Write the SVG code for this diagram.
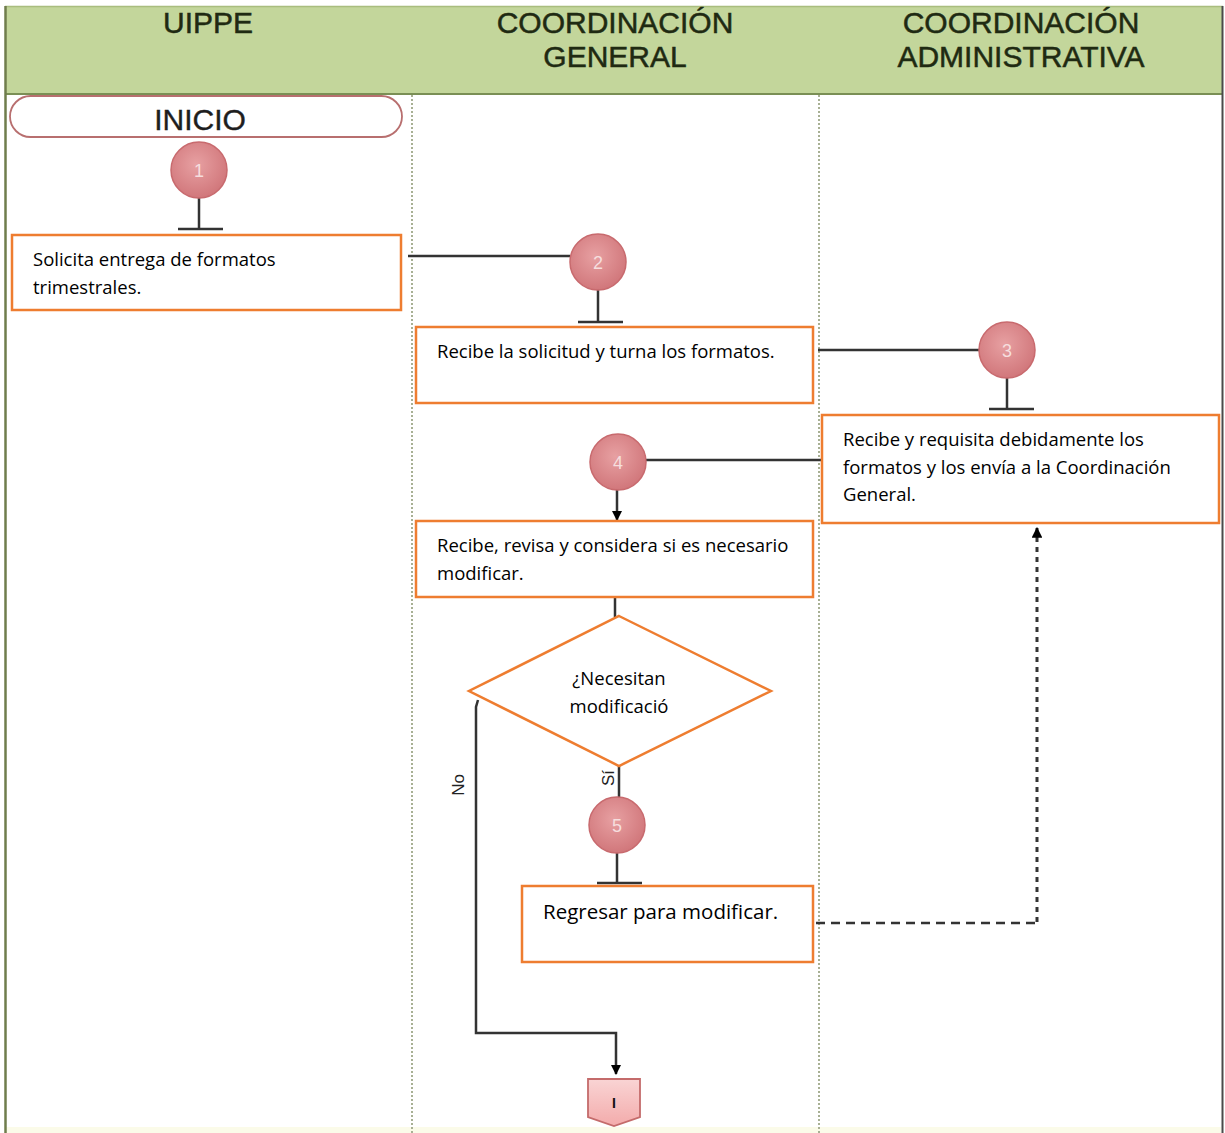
<svg xmlns="http://www.w3.org/2000/svg" width="1225" height="1133" viewBox="0 0 1225 1133">
  <style>
    .hdr { font-family: "Liberation Sans", Arial, sans-serif; font-size: 30px; fill: #1f2a12; stroke: #1f2a12; stroke-width: 0.5; text-anchor: middle; }
    .box { fill: #ffffff; stroke: #ee7d30; stroke-width: 2.5; }
    .txt { font-family: "Open Sans", "Liberation Sans", sans-serif; font-size: 18.5px; fill: #000000; }
    .big { font-size: 20.5px; }
    .num { font-family: "Liberation Sans", Arial, sans-serif; font-size: 18px; fill: #f6dede; text-anchor: middle; }
    .lbl { font-family: "Liberation Sans", Arial, sans-serif; font-size: 17px; fill: #222222; text-anchor: middle; }
    .line { fill: none; stroke: #333333; stroke-width: 2.5; }
    .lane { stroke: #a8b094; stroke-width: 2; stroke-dasharray: 2 2; }
  </style>
  <defs>
    <radialGradient id="ball" cx="45%" cy="40%" r="60%">
      <stop offset="0" stop-color="#e7a0a2"/>
      <stop offset="1" stop-color="#d1777b"/>
    </radialGradient>
    <linearGradient id="offpage" x1="0" y1="0" x2="0" y2="1">
      <stop offset="0" stop-color="#f9d4d4"/>
      <stop offset="1" stop-color="#f3abab"/>
    </linearGradient>
    <marker id="arrow" viewBox="0 0 10 10" refX="9" refY="5" markerWidth="4.2" markerHeight="4.2" orient="auto" markerUnits="strokeWidth">
      <path d="M0,0 L10,5 L0,10 z" fill="#000000"/>
    </marker>
    <marker id="arrowDash" viewBox="0 0 10 10" refX="9" refY="5" markerWidth="3.6" markerHeight="3.6" orient="auto" markerUnits="strokeWidth">
      <path d="M0,0 L10,5 L0,10 z" fill="#000000"/>
    </marker>
  </defs>

  <!-- page -->
  <rect x="0" y="0" width="1225" height="1133" fill="#ffffff"/>
  <rect x="5" y="1127" width="1216" height="6" fill="#fbfbe9"/>

  <!-- header band with lane titles -->
  <g id="header">
    <rect x="5" y="6" width="1218" height="88" fill="#c3d69b"/>
    <line x1="5" y1="6.5" x2="1223" y2="6.5" stroke="#a9bd7e" stroke-width="1.5"/>
    <line x1="5" y1="94" x2="1223" y2="94" stroke="#7a8f55" stroke-width="2"/>
    <text class="hdr" x="208" y="33">UIPPE</text>
    <text class="hdr" x="615" y="33">COORDINACIÓN</text>
    <text class="hdr" x="615" y="67">GENERAL</text>
    <text class="hdr" x="1021" y="33">COORDINACIÓN</text>
    <text class="hdr" x="1021" y="67">ADMINISTRATIVA</text>
  </g>

  <!-- lane frame -->
  <g id="lanes">
    <line x1="5.5" y1="6" x2="5.5" y2="1133" stroke="#6f7d4c" stroke-width="2.5"/>
    <line x1="1222.5" y1="6" x2="1222.5" y2="1133" stroke="#4a4a4a" stroke-width="2"/>
    <line class="lane" x1="412" y1="95" x2="412" y2="1133"/>
    <line class="lane" x1="819" y1="95" x2="819" y2="1133"/>
  </g>

  <!-- connectors -->
  <g id="connectors">
    <!-- 1 -> box 1 -->
    <line class="line" x1="199" y1="197" x2="199" y2="229"/>
    <line class="line" x1="178" y1="229" x2="223" y2="229"/>
    <!-- box 1 -> 2 -->
    <line class="line" x1="408" y1="256" x2="570" y2="256"/>
    <line class="line" x1="598" y1="289" x2="598" y2="322"/>
    <line class="line" x1="578" y1="322" x2="623" y2="322"/>
    <!-- box 2 -> 3 -->
    <line class="line" x1="818" y1="350" x2="979" y2="350"/>
    <line class="line" x1="1007" y1="377" x2="1007" y2="409"/>
    <line class="line" x1="989" y1="409" x2="1034" y2="409"/>
    <!-- box 3 -> 4 -->
    <line class="line" x1="646" y1="460" x2="821" y2="460"/>
    <line class="line" x1="617" y1="489" x2="617" y2="520" marker-end="url(#arrow)"/>
    <!-- box 4 -> decision -->
    <line class="line" x1="615" y1="598" x2="615" y2="617"/>
    <!-- Sí branch -> 5 -> box 5 -->
    <line class="line" x1="619" y1="766" x2="619" y2="798"/>
    <line class="line" x1="617" y1="852" x2="617" y2="883"/>
    <line class="line" x1="597" y1="883" x2="642" y2="883"/>
    <!-- No branch -> off-page connector -->
    <polyline class="line" points="478,700 476,707 476,1033 616,1033 616,1074" marker-end="url(#arrow)"/>
    <!-- box 5 back to box 3 (dashed) -->
    <line x1="816" y1="923" x2="1037" y2="923" stroke="#333333" stroke-width="2.5" stroke-dasharray="9 6"/>
    <line x1="1037" y1="922" x2="1037" y2="528" stroke="#333333" stroke-width="3" stroke-dasharray="5 5" marker-end="url(#arrowDash)"/>
    <text class="lbl" transform="translate(464,785) rotate(-90)">No</text>
    <text class="lbl" transform="translate(614,778) rotate(-90)">Sí</text>
  </g>

  <!-- start -->
  <g id="inicio">
    <rect x="10" y="96" width="392" height="41" rx="20.5" ry="20.5" fill="#ffffff" stroke="#b86f6f" stroke-width="1.8"/>
    <text x="200" y="130" font-family="Liberation Sans, Arial, sans-serif" font-size="30" fill="#1e1e1e" stroke="#1e1e1e" stroke-width="0.4" text-anchor="middle">INICIO</text>
  </g>

  <!-- numbered step markers -->
  <g id="step1">
    <circle cx="199" cy="170" r="28" fill="url(#ball)" stroke="#c86a6e" stroke-width="1.5"/>
    <text class="num" x="199" y="177">1</text>
  </g>
  <g id="step2">
    <circle cx="598" cy="262" r="28" fill="url(#ball)" stroke="#c86a6e" stroke-width="1.5"/>
    <text class="num" x="598" y="269">2</text>
  </g>
  <g id="step3">
    <circle cx="1007" cy="350" r="28" fill="url(#ball)" stroke="#c86a6e" stroke-width="1.5"/>
    <text class="num" x="1007" y="357">3</text>
  </g>
  <g id="step4">
    <circle cx="618" cy="462" r="28" fill="url(#ball)" stroke="#c86a6e" stroke-width="1.5"/>
    <text class="num" x="618" y="469">4</text>
  </g>
  <g id="step5">
    <circle cx="617" cy="825" r="28" fill="url(#ball)" stroke="#c86a6e" stroke-width="1.5"/>
    <text class="num" x="617" y="832">5</text>
  </g>

  <!-- activities -->
  <g id="box1">
    <rect class="box" x="12" y="235" width="389" height="75"/>
    <text class="txt" x="33" y="266">Solicita entrega de formatos</text>
    <text class="txt" x="33" y="294">trimestrales.</text>
  </g>
  <g id="box2">
    <rect class="box" x="416" y="327" width="397" height="76"/>
    <text class="txt" x="437" y="358">Recibe la solicitud y turna los formatos.</text>
  </g>
  <g id="box3">
    <rect class="box" x="822" y="415" width="397" height="108"/>
    <text class="txt" x="843" y="446">Recibe y requisita debidamente los</text>
    <text class="txt" x="843" y="474">formatos y los envía a la Coordinación</text>
    <text class="txt" x="843" y="501">General.</text>
  </g>
  <g id="box4">
    <rect class="box" x="416" y="521" width="397" height="76"/>
    <text class="txt" x="437" y="552">Recibe, revisa y considera si es necesario</text>
    <text class="txt" x="437" y="580">modificar.</text>
  </g>
  <g id="decision">
    <polygon points="619,616 771,691 619,766 469,691" fill="#ffffff" stroke="#ee7d30" stroke-width="2.5"/>
    <text class="txt" x="619" y="685" text-anchor="middle">¿Necesitan</text>
    <text class="txt" x="619" y="713" text-anchor="middle">modificació</text>
  </g>
  <g id="box5">
    <rect class="box" x="522" y="886" width="291" height="76"/>
    <text class="txt big" x="543" y="919">Regresar para modificar.</text>
  </g>

  <!-- off-page connector -->
  <g id="offpage">
    <path d="M588,1079 L640,1079 L640,1117 L614,1126 L588,1117 Z" fill="url(#offpage)" stroke="#c46b6b" stroke-width="1.8"/>
    <text x="614" y="1108" font-family="Liberation Sans, Arial, sans-serif" font-size="14" font-weight="bold" fill="#111111" text-anchor="middle">I</text>
  </g>
</svg>
